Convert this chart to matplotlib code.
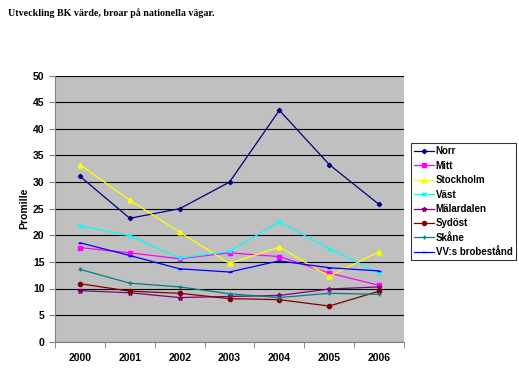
import matplotlib.pyplot as plt
import numpy as np

years = ['2000', '2001', '2002', '2003', '2004', '2005', '2006']

norr = [31.1, 23.2, 25.0, 30.0, 43.5, 33.3, 25.8]
mitt = [17.7, 16.7, 15.6, 16.7, 16.0, 12.9, 10.6]
stockholm = [33.3, 26.6, 20.6, 14.7, 17.8, 12.3, 16.9]
vast = [21.8, 19.9, 15.7, 17.0, 22.5, 17.5, 13.0]
malardalen = [9.6, 9.2, 8.3, 8.5, 8.7, 9.9, 10.3]
sydost = [10.9, 9.5, 9.1, 8.1, 7.9, 6.7, 9.5]
skane = [13.6, 11.0, 10.3, 9.0, 8.3, 9.1, 8.9]
vv = [18.6, 16.2, 13.7, 13.1, 15.2, 13.9, 13.3]

series = [
    ('Norr', norr, '#000080', 'D', 2.2),
    ('Mitt', mitt, '#FF00FF', 's', 3),
    ('Stockholm', stockholm, '#FFFF00', '^', 3.5),
    ('Väst', vast, '#00FFFF', 'x', 3),
    ('Mälardalen', malardalen, '#800080', '*', 3.5),
    ('Sydöst', sydost, '#800000', 'o', 3),
    ('Skåne', skane, '#008080', '+', 3.5),
    ('VV:s brobestånd', vv, '#0000FF', '_', 2.5),
]

plt.rcParams['font.family'] = ['Liberation Sans', 'DejaVu Sans']

fig = plt.figure(figsize=(5.19, 3.79), dpi=100)
ax = fig.add_axes([55 / 519, 1 - 341.7 / 379, 349 / 519, (341.7 - 75.7) / 379])

x = np.arange(len(years))
for name, vals, col, mk, ms in series:
    ax.plot(x, vals, color=col, marker=mk, markersize=ms, linewidth=0.9,
            label=name, markeredgewidth=1)

ax.set_facecolor('#C0C0C0')
ax.set_xlim(-0.5, len(years) - 0.5)
ax.set_ylim(0, 50)
ax.set_yticks(np.arange(0, 51, 5))
ax.yaxis.grid(True, color='black', linewidth=0.8)
ax.set_axisbelow(True)
for s in ['top', 'right']:
    ax.spines[s].set_visible(False)
ax.spines['left'].set_color('#808080')
ax.spines['bottom'].set_color('#808080')

ax.set_xticks(x)
ax.set_xticklabels(years, fontsize=7.5, fontweight='bold')
ax.set_xticks(np.arange(-0.5, len(years), 1), minor=True)
ax.tick_params(axis='x', which='major', length=0, pad=8)
ax.tick_params(axis='x', which='minor', length=4, color='#808080')
ax.tick_params(axis='y', labelsize=7.5, length=4, color='#808080')
for lbl in ax.get_yticklabels():
    lbl.set_fontweight('bold')

ax.set_ylabel('Promille', fontsize=7.5, fontweight='bold', labelpad=3)

leg = fig.legend(loc='upper left', bbox_to_anchor=(411 / 519, 1 - 143 / 379),
                 prop={'weight': 'bold', 'size': 7},
                 frameon=True, fancybox=False, edgecolor='black',
                 handlelength=2, handletextpad=0.2, labelspacing=0.45,
                 borderpad=0.35, borderaxespad=0)
leg.get_frame().set_linewidth(0.8)

fig.text(8 / 519, 1 - 13 / 379, 'Utveckling BK värde, broar på nationella vägar.',
         fontsize=7.2, fontweight='bold', family=['Liberation Serif'], va='center')

fig.savefig('out.png', dpi=100)
